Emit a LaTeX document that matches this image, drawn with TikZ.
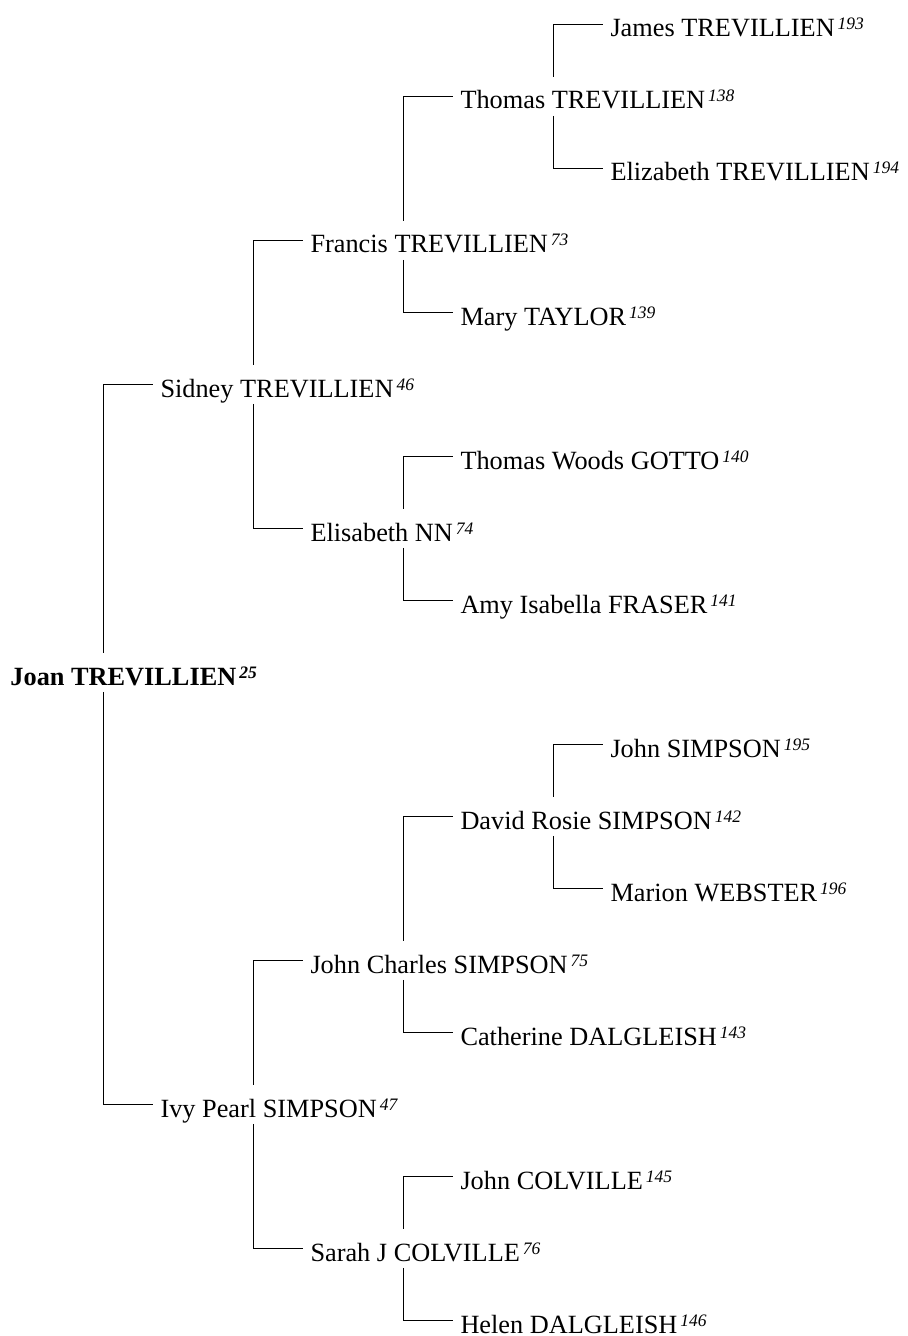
\documentclass[tikz,border=0pt]{standalone}
\usepackage{fontspec}
\setmainfont{Liberation Serif}
\usepackage{tikz}
\usetikzlibrary{
calc,
positioning
}
\newcommand{\refno}[1]{\hspace{3bp}\raisebox{7bp}{\fontsize{17.5bp}{17.5bp}\selectfont\itshape #1}}

\begin{document}
\begin{tikzpicture}[x=1bp, y=-1bp,
    person/.style={anchor=west, inner xsep=7bp, inner ysep=0pt, text height=32bp, text depth=6.6bp,
      font=\fontsize{26.3bp}{30bp}\selectfont},
    link/.style={line width=1.2bp}]
    \useasboundingbox (0,0) rectangle (907,1336);
    \coordinate (r) at (100,0);
    \node[person] (joan) at (3.3,672.3) {\bfseries Joan TREVILLIEN\refno{25}};
    \node[person] (sidney) at (153.3,384.3) {Sidney TREVILLIEN\refno{46}};
    \node[person] (ivy) at (153.3,1104.3) {Ivy Pearl SIMPSON\refno{47}};
    \node[person] (francis) at (303.3,240.3) {Francis TREVILLIEN\refno{73}};
    \node[person] (elisabeth) at (303.3,528.3) {Elisabeth NN\refno{74}};
    \node[person] (jcharles) at (303.3,960.3) {John Charles SIMPSON\refno{75}};
    \node[person] (sarah) at (303.3,1248.3) {Sarah J COLVILLE\refno{76}};
    \node[person] (thomas) at (453.3,96.3) {Thomas TREVILLIEN\refno{138}};
    \node[person] (mary) at (453.3,312.3) {Mary TAYLOR\refno{139}};
    \node[person] (gotto) at (453.3,456.3) {Thomas Woods GOTTO\refno{140}};
    \node[person] (amy) at (453.3,600.3) {Amy Isabella FRASER\refno{141}};
    \node[person] (david) at (453.3,816.3) {David Rosie SIMPSON\refno{142}};
    \node[person] (catherine) at (453.3,1032.3) {Catherine DALGLEISH\refno{143}};
    \node[person] (jcolville) at (453.3,1176.3) {John COLVILLE\refno{145}};
    \node[person] (helen) at (453.3,1320.3) {Helen DALGLEISH\refno{146}};
    \node[person] (james) at (603.3,24.3) {James TREVILLIEN\refno{193}};
    \node[person] (elizabeth) at (603.3,168.3) {Elizabeth TREVILLIEN\refno{194}};
    \node[person] (jsimpson) at (603.3,744.3) {John SIMPSON\refno{195}};
    \node[person] (marion) at (603.3,888.3) {Marion WEBSTER\refno{196}};
    % father above, mother below
    \draw[link] ($(joan.north west)+(r)$) |- (sidney.west);
    \draw[link] ($(joan.south west)+(r)$) |- (ivy.west);
    \draw[link] ($(sidney.north west)+(r)$) |- (francis.west);
    \draw[link] ($(sidney.south west)+(r)$) |- (elisabeth.west);
    \draw[link] ($(ivy.north west)+(r)$) |- (jcharles.west);
    \draw[link] ($(ivy.south west)+(r)$) |- (sarah.west);
    \draw[link] ($(francis.north west)+(r)$) |- (thomas.west);
    \draw[link] ($(francis.south west)+(r)$) |- (mary.west);
    \draw[link] ($(elisabeth.north west)+(r)$) |- (gotto.west);
    \draw[link] ($(elisabeth.south west)+(r)$) |- (amy.west);
    \draw[link] ($(jcharles.north west)+(r)$) |- (david.west);
    \draw[link] ($(jcharles.south west)+(r)$) |- (catherine.west);
    \draw[link] ($(sarah.north west)+(r)$) |- (jcolville.west);
    \draw[link] ($(sarah.south west)+(r)$) |- (helen.west);
    \draw[link] ($(thomas.north west)+(r)$) |- (james.west);
    \draw[link] ($(thomas.south west)+(r)$) |- (elizabeth.west);
    \draw[link] ($(david.north west)+(r)$) |- (jsimpson.west);
    \draw[link] ($(david.south west)+(r)$) |- (marion.west);
\end{tikzpicture}
\end{document}
